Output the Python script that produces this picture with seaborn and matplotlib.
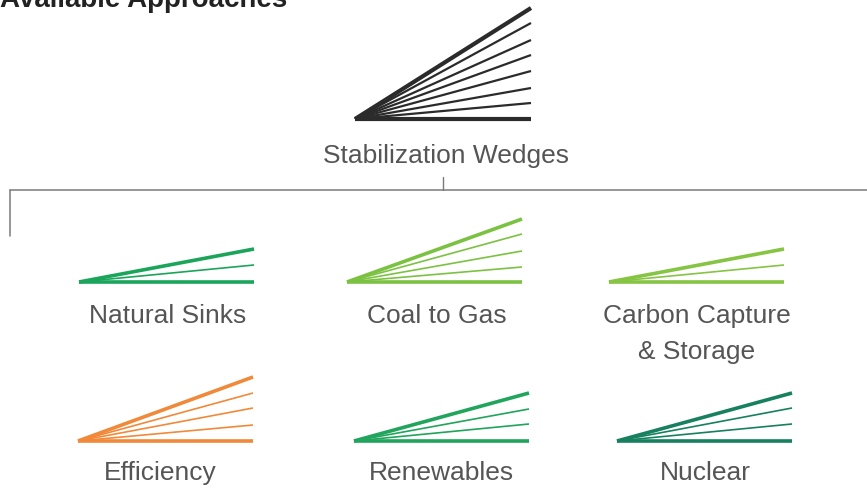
import matplotlib
matplotlib.use("Agg")
import matplotlib.pyplot as plt
import seaborn as sns
import pandas as pd

sns.set_theme(style="white")
plt.rcParams['font.family'] = ['Liberation Sans', 'DejaVu Sans']

# ---- data ----
title = "Available Approaches"
top_label = "Stabilization Wedges"
top_rays = [0, 16, 31, 48, 64, 79, 96, 111]   # ray rise (relative units)

wedge_names = [["Natural Sinks"], ["Coal to Gas"], ["Carbon Capture", "& Storage"],
               ["Efficiency"], ["Renewables"], ["Nuclear"]]
wedge_rays = [
    [0, 17, 33],
    [0, 15, 31, 48, 63],
    [0, 17, 33],
    [0, 16, 33, 48, 64],
    [0, 17, 32, 48],
    [0, 17, 33, 48],
]
wedge_colors = ["#1aa55a", "#7cc242", "#86c443", "#f08a3a", "#21a45c", "#17805f"]

# ---- layout ----
W, H = 867, 490
fig = plt.figure(figsize=(W / 100, H / 100), dpi=100)
ax = fig.add_axes([0, 0, 1, 1])
ax.set_xlim(0, W)
ax.set_ylim(H, 0)
ax.axis("off")

def draw_wedge(ox, oy, width, rays, color, thick, thin):
    rows = []
    for i, r in enumerate(rays):
        rows.append(dict(ray=i, x=ox, y=oy))
        rows.append(dict(ray=i, x=ox + width, y=oy - r))
    df = pd.DataFrame(rows)
    n = len(rays)
    for i in range(n):
        lw = thick if i in (0, n - 1) else thin
        sns.lineplot(data=df[df.ray == i], x="x", y="y", ax=ax, color=color,
                     lw=lw, solid_capstyle="butt", sort=False, estimator=None)

# big wedge
draw_wedge(355, 119, 176, top_rays, "#2b2b2b", 3.0, 1.6)

origins = [(79, 282), (347, 282), (609, 282), (78, 441), (354, 441), (617, 441)]
for (ox, oy), rays, c in zip(origins, wedge_rays, wedge_colors):
    draw_wedge(ox, oy, 175, rays, c, 2.6, 1.2)

# tree lines
tree_c = "#7a7a7a"
ax.plot([443, 443], [177, 190], color=tree_c, lw=1.0)
ax.plot([10, W], [190, 190], color=tree_c, lw=1.1)
ax.plot([10, 10], [190, 236], color=tree_c, lw=1.1)

txt_c = "#555555"
fs = 19
ax.text(0, 7, title, fontsize=20, fontweight="bold", color="#222222",
        ha="left", va="baseline")
ax.text(446, 163, top_label, fontsize=fs, color=txt_c, ha="center", va="baseline")

label_pos = [(168, 323), (437, 323), (697, 323), (160, 480), (441, 480), (705, 480)]
for (lx, ly), lines in zip(label_pos, wedge_names):
    for k, line in enumerate(lines):
        ax.text(lx, ly + 36 * k, line, fontsize=fs, color=txt_c, ha="center",
                va="baseline")

fig.savefig("out.png", dpi=100)
